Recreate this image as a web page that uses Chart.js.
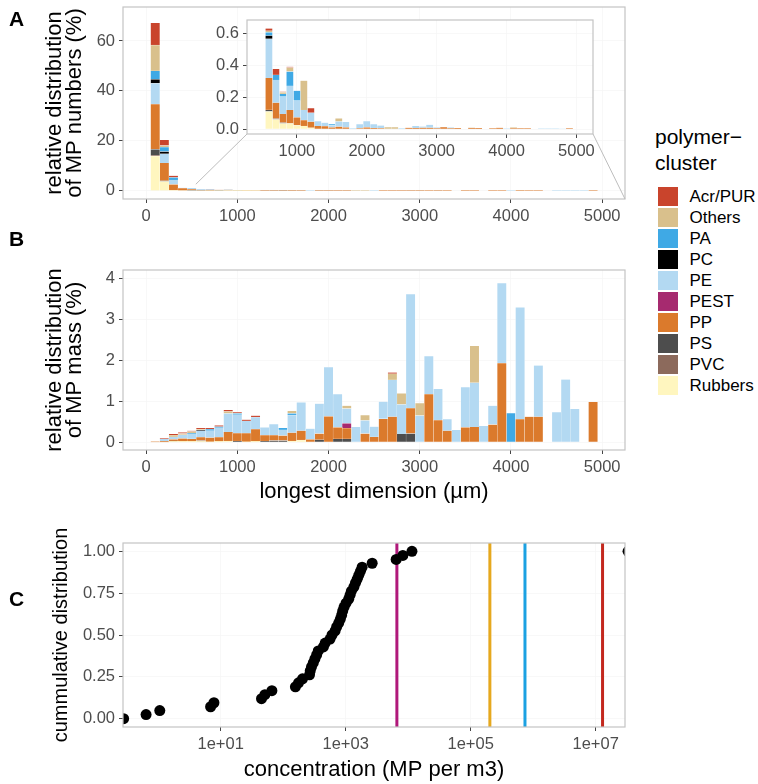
<!DOCTYPE html>
<html>
<head>
<meta charset="utf-8">
<script src="https://cdn.jsdelivr.net/npm/chart.js@4.4.0/dist/chart.umd.min.js"></script>
<style>
  body { margin: 0; background: #fff; font-family: "Liberation Sans", Arial, sans-serif; }
  #wrap { position: relative; width: 758px; height: 784px; overflow: hidden; }
  canvas { position: absolute; }
  .tag { position: absolute; font-weight: bold; font-size: 21px; color: #000; }
  #legend { position: absolute; left: 655px; top: 124px; color: #000; }
  .ltitle { font-size: 21px; line-height: 26px; }
  #litems { margin-top: 10px; }
  .litem { height: 21px; display: flex; align-items: center; font-size: 17px; }
  .lbox { width: 19.5px; height: 19.5px; margin-left: 3px; margin-right: 12px; }
</style>
</head>
<body>
<div id="wrap">
  <canvas id="numbers" width="640" height="235" style="left:0;top:0"></canvas>
  <canvas id="inset" width="410" height="152" style="left:195px;top:14px"></canvas>
  <canvas id="mass" width="640" height="275" style="left:0;top:235px"></canvas>
  <canvas id="conc" width="640" height="274" style="left:0;top:510px"></canvas>
  <div class="tag" style="left:9px;top:7px">A</div>
  <div class="tag" style="left:9px;top:227px">B</div>
  <div class="tag" style="left:9px;top:587px">C</div>
  <div id="legend">
    <div class="ltitle">polymer−<br>cluster</div>
    <div id="litems"></div>
  </div>
</div>
<script>
// size classes (µm), bin centres
const bins = [
  100, 200, 300, 400, 500, 600, 700, 800, 900, 1000,
  1100, 1200, 1300, 1400, 1500, 1600, 1700, 1800, 1900, 2000,
  2100, 2200, 2300, 2400, 2500, 2600, 2700, 2800, 2900, 3000,
  3100, 3200, 3300, 3400, 3500, 3600, 3700, 3800, 3900, 4000,
  4100, 4200, 4300, 4400, 4500, 4600, 4700, 4800, 4900, 5000
];

// legend order (top of stack first)
const polymers = ["Acr/PUR", "Others", "PA", "PC", "PE", "PEST", "PP", "PS", "PVC", "Rubbers"];
const colors = ["#C9442C", "#D9C08C", "#3FA9E5", "#000000", "#B3D9F2", "#A62A6F", "#DB7A2C", "#4D4D4D", "#8C6A5C", "#FFF6BF"];

// A: relative distribution of MP numbers (%)
const numAcr = [
  8.9, 2.3, 0.7, 0, 0, 0.015, 0.037, 0.004, 0.005, 0,
  0, 0.028, 0, 0, 0, 0, 0, 0, 0, 0,
  0, 0, 0, 0, 0, 0, 0, 0, 0, 0,
  0, 0, 0, 0, 0, 0, 0, 0, 0, 0,
  0, 0, 0, 0, 0, 0, 0, 0, 0, 0
];
const numOthers = [
  10.3, 0.6, 0, 0, 0, 0.01, 0, 0.01, 0.025, 0,
  0.184, 0, 0, 0, 0, 0.02, 0, 0, 0, 0,
  0, 0, 0.012, 0.012, 0, 0, 0, 0, 0, 0,
  0, 0, 0, 0, 0.002, 0, 0, 0, 0, 0,
  0.006, 0, 0, 0, 0, 0, 0, 0, 0, 0
];
const numPA = [
  3.4, 1.8, 1.0, 0, 0, 0.02, 0.032, 0.017, 0.09, 0.062,
  0, 0, 0, 0, 0.008, 0, 0, 0, 0, 0,
  0, 0, 0, 0, 0, 0, 0, 0, 0, 0,
  0, 0, 0, 0, 0, 0, 0, 0, 0, 0,
  0, 0, 0, 0, 0, 0, 0, 0, 0, 0
];
const numPC = [
  1.6, 0.9, 0, 0, 0, 0.02, 0, 0, 0, 0,
  0, 0, 0, 0, 0, 0, 0, 0, 0, 0,
  0, 0, 0, 0, 0, 0, 0, 0, 0, 0,
  0, 0, 0, 0, 0, 0, 0, 0, 0, 0,
  0, 0, 0, 0, 0, 0, 0, 0, 0, 0
];
const numPE = [
  8.3, 3.7, 1.8, 0.2, 0.5, 0.245, 0.142, 0.109, 0.151, 0.105,
  0.063, 0.056, 0.031, 0.022, 0.012, 0.032, 0.035, 0.005, 0.025, 0.04,
  0.024, 0.017, 0, 0, 0.004, 0, 0.013, 0.008, 0.019, 0.006,
  0, 0.006, 0, 0, 0, 0, 0, 0, 0, 0.003,
  0, 0, 0, 0, 0.003, 0.003, 0.003, 0.002, 0, 0
];
const numPEST = [
  0, 0, 0, 0, 0, 0, 0, 0, 0, 0,
  0, 0, 0, 0, 0, 0, 0, 0, 0, 0,
  0, 0, 0, 0, 0, 0, 0, 0, 0, 0,
  0, 0, 0, 0, 0, 0, 0, 0, 0, 0,
  0, 0, 0, 0, 0, 0, 0, 0, 0, 0
];
const numPP = [
  18.1, 7.1, 2.3, 0.9, 0.4, 0.2, 0.1, 0.054, 0.084, 0.05,
  0.037, 0.038, 0.019, 0.018, 0.01, 0.015, 0.01, 0, 0.005, 0.01,
  0.006, 0.005, 0, 0, 0, 0.008, 0.006, 0.008, 0.008, 0.004,
  0.012, 0.004, 0.006, 0, 0.006, 0.006, 0, 0.005, 0.008, 0,
  0.004, 0.005, 0.005, 0, 0, 0, 0, 0, 0.004, 0
];
const numPS = [
  2.4, 0.3, 0, 0, 0.1, 0.01, 0.005, 0.005, 0, 0,
  0, 0, 0, 0, 0, 0, 0, 0, 0, 0,
  0, 0, 0, 0, 0, 0, 0, 0, 0, 0,
  0, 0, 0, 0, 0, 0, 0, 0, 0, 0,
  0, 0, 0, 0, 0, 0, 0, 0, 0, 0
];
const numPVC = [
  0.3, 0, 0, 0, 0, 0, 0, 0, 0, 0,
  0, 0, 0, 0, 0, 0, 0, 0, 0, 0,
  0, 0, 0, 0, 0, 0, 0, 0, 0, 0,
  0, 0, 0, 0, 0, 0, 0, 0, 0, 0,
  0, 0, 0, 0, 0, 0, 0, 0, 0, 0
];
const numRubbers = [
  13.9, 3.7, 0.2, 0.1, 0.1, 0.11, 0.06, 0.035, 0.035, 0.023,
  0.019, 0.008, 0, 0, 0, 0, 0, 0, 0, 0,
  0, 0, 0, 0, 0, 0, 0, 0, 0, 0,
  0, 0, 0, 0, 0, 0, 0, 0, 0, 0,
  0, 0, 0, 0, 0, 0, 0, 0, 0, 0
];

// B: relative distribution of MP mass (%)
const massAcr = [
  0, 0.02, 0.03, 0.03, 0.02, 0.03, 0.03, 0.03, 0.04, 0.02,
  0.03, 0.04, 0, 0, 0, 0, 0, 0, 0, 0,
  0, 0, 0, 0, 0, 0, 0.03, 0, 0, 0,
  0, 0, 0, 0, 0, 0, 0, 0, 0, 0,
  0, 0, 0, 0, 0, 0, 0, 0, 0, 0
];
const massOthers = [
  0, 0, 0.04, 0.03, 0.04, 0.02, 0, 0, 0.05, 0.01,
  0, 0, 0, 0, 0, 0.06, 0, 0, 0, 0,
  0, 0.07, 0, 0.13, 0, 0, 0.15, 0.27, 0, 0.3,
  0, 0, 0, 0, 0, 0.9, 0, 0, 0, 0,
  0, 0, 0, 0, 0, 0, 0, 0, 0, 0
];
const massPA = [
  0, 0, 0, 0, 0.02, 0, 0.04, 0.03, 0, 0.03,
  0, 0, 0, 0, 0.05, 0.04, 0, 0, 0, 0,
  0, 0, 0, 0, 0, 0, 0, 0, 0, 0,
  0, 0, 0, 0, 0, 0, 0, 0, 0, 0.71,
  0, 0, 0, 0, 0, 0, 0, 0, 0, 0
];
const massPC = [
  0, 0, 0, 0, 0, 0.02, 0, 0, 0, 0,
  0, 0, 0, 0, 0, 0, 0, 0, 0, 0,
  0, 0, 0, 0, 0, 0, 0, 0, 0, 0,
  0, 0, 0, 0, 0, 0, 0, 0, 0, 0,
  0, 0, 0, 0, 0, 0, 0, 0, 0, 0
];
const massPE = [
  0, 0.06, 0.06, 0.09, 0.12, 0.16, 0.17, 0.23, 0.45, 0.45,
  0.3, 0.29, 0.19, 0.27, 0.14, 0.43, 0.69, 0.26, 0.73, 1.2,
  0.81, 0.36, 0.37, 0.32, 0.25, 0.42, 0.9, 0.72, 2.78, 0.65,
  0.93, 0.76, 0.28, 0.3, 0.98, 1.08, 0.4, 0.46, 1.95, 0,
  2.73, 0, 1.25, 0, 0.73, 1.53, 0.81, 0, 0, 0
];
const massPEST = [
  0, 0, 0, 0, 0, 0, 0, 0, 0, 0,
  0, 0, 0, 0, 0, 0, 0, 0, 0, 0,
  0, 0.12, 0, 0, 0, 0, 0, 0, 0, 0,
  0, 0, 0, 0, 0, 0, 0, 0, 0, 0,
  0, 0, 0, 0, 0, 0, 0, 0, 0, 0
];
const massPP = [
  0.016, 0.02, 0.04, 0.07, 0.06, 0.08, 0.1, 0.1, 0.22, 0.19,
  0.21, 0.3, 0.14, 0.13, 0.12, 0.2, 0.23, 0.07, 0.15, 0.63,
  0.28, 0.26, 0, 0.21, 0.13, 0.57, 0.62, 0, 0.62, 0,
  1.17, 0.54, 0.28, 0, 0.36, 0.37, 0, 0.43, 1.93, 0,
  0.56, 0.62, 0.62, 0, 0, 0, 0, 0, 0.98, 0
];
const massPS = [
  0, 0, 0.01, 0, 0, 0.02, 0, 0, 0, 0.03,
  0, 0, 0.03, 0.04, 0.04, 0, 0, 0, 0.06, 0,
  0.08, 0.08, 0, 0, 0, 0, 0, 0.2, 0.21, 0,
  0, 0, 0, 0, 0, 0, 0, 0, 0, 0,
  0, 0, 0, 0, 0, 0, 0, 0, 0, 0
];
const massPVC = [
  0, 0, 0, 0, 0, 0, 0, 0, 0, 0,
  0, 0, 0, 0, 0, 0, 0, 0, 0, 0,
  0, 0, 0, 0, 0, 0, 0, 0, 0, 0,
  0, 0, 0, 0, 0, 0, 0, 0, 0, 0,
  0, 0, 0, 0, 0, 0, 0, 0, 0, 0
];
const massRubbers = [
  0, 0, 0.02, 0.02, 0.02, 0.02, 0.01, 0.02, 0.03, 0,
  0.01, 0.02, 0, 0, 0, 0.03, 0.05, 0, 0, 0,
  0, 0, 0, 0, 0, 0, 0, 0, 0, 0,
  0, 0, 0, 0, 0, 0, 0, 0, 0, 0,
  0, 0, 0, 0, 0, 0, 0, 0, 0, 0
];

// C: concentrations (MP per m3) and cumulative share
const concValues = [
  0.28, 0.64, 1.06, 6.9, 7.8, 45, 51, 66, 157, 176, 204,
  264, 271, 284, 303, 322, 343, 364, 440, 470, 562, 605,
  677, 717, 773, 822, 863, 896, 942, 1014, 1117, 1175, 1233,
  1350, 1430, 1524, 1618, 1722, 1832, 2655, 6430, 8220, 11500, 3.3e7
];
const cumShare = [
  0, 0.024, 0.048, 0.071, 0.095, 0.119, 0.143, 0.167, 0.19, 0.214, 0.238,
  0.262, 0.286, 0.31, 0.333, 0.357, 0.381, 0.405, 0.429, 0.452, 0.476, 0.5,
  0.524, 0.548, 0.571, 0.595, 0.619, 0.643, 0.667, 0.69, 0.714, 0.738, 0.762,
  0.786, 0.81, 0.833, 0.857, 0.881, 0.905, 0.929, 0.952, 0.976, 1.0, 1.0
];
const refLines = [6600, 203000, 740000, 12900000];
const refColors = ["#B0187A", "#E6A81E", "#1BA1E2", "#C3281E"];

// tick labels
const sizeTicks = [0, 1000, 2000, 3000, 4000, 5000];
const insetXTicks = [1000, 2000, 3000, 4000, 5000];
const numTicks = [0, 20, 40, 60];
const insetYTicks = [0, 0.2, 0.4, 0.6];
const massTicks = [0, 1, 2, 3, 4];
const concTicks = [10, 1000, 100000, 10000000];
const cumTicks = [0, 0.25, 0.5, 0.75, 1];

// zoomed region of A shown in the inset (x0, x1, y0, y1)
const zoomBox = [545, 5250, -3.3, 2.6];

Chart.defaults.font.family = '"Liberation Sans", Arial, sans-serif';
Chart.defaults.font.size = 16.5;
Chart.defaults.color = "#4D4D4D";
Chart.defaults.animation = false;
Chart.defaults.events = [];
Chart.defaults.plugins.legend.display = false;
Chart.defaults.plugins.tooltip.enabled = false;

var gridColor = "#F5F5F5";

var panelBorder = {
  id: "panelBorder",
  afterDatasetsDraw(chart) {
    var a = chart.chartArea;
    var ctx = chart.ctx;
    ctx.save();
    ctx.strokeStyle = "#C4C4C4";
    ctx.lineWidth = 1.2;
    ctx.strokeRect(a.left, a.top, a.right - a.left, a.bottom - a.top);
    ctx.restore();
  }
};

var whiteArea = {
  id: "whiteArea",
  beforeDraw(chart) {
    var a = chart.chartArea;
    chart.ctx.save();
    chart.ctx.fillStyle = "#fff";
    chart.ctx.fillRect(a.left, a.top, a.right - a.left, a.bottom - a.top);
    chart.ctx.restore();
  }
};

function axis(ticks, fmt, min, max, extra) {
  return Object.assign({
    min: min,
    max: max,
    afterBuildTicks: (s) => { s.ticks = ticks.map((v) => ({ value: v })); },
    ticks: { callback: fmt, padding: 4, autoSkip: false, maxRotation: 0, minRotation: 0 },
    grid: { color: gridColor, lineWidth: 0.7, tickColor: "#444", tickLength: 4, tickWidth: 1, offset: false },
    border: { display: false },
  }, extra);
}

function fixWidth(w) {
  return (s) => { s.width = w; s.paddingTop = 0; s.paddingBottom = 0; };
}
function fixHeight(h) {
  return (s) => { s.height = h; s.paddingLeft = 0; s.paddingRight = 0; };
}

function yTitle(text, pad, size) {
  return { display: true, text: text, color: "#000", font: { size: size || 22, lineHeight: 0.95 }, padding: { top: pad, bottom: 0 } };
}
function xTitle(text, pad) {
  return { display: true, text: text, color: "#000", font: { size: 22, lineHeight: 0.95 }, padding: { top: 0, bottom: pad } };
}

function stackSets(series, keep) {
  // ggplot puts the first level on top, Chart.js stacks the first dataset at the bottom
  var sets = [];
  for (var k = polymers.length - 1; k >= 0; k--) {
    sets.push({
      label: polymers[k],
      data: bins.map((b, i) => ({ x: b, y: series[k][i] === 0 ? null : series[k][i] }))
        .filter((d) => keep(d.x)),
      backgroundColor: colors[k],
      borderColor: "rgba(255,255,255,0.7)",
      borderWidth: 0.4,
      borderSkipped: "start",
      barPercentage: 1,
      categoryPercentage: 1,
    });
  }
  return sets;
}

var numSeries = [numAcr, numOthers, numPA, numPC, numPE, numPEST, numPP, numPS, numPVC, numRubbers];
var massSeries = [massAcr, massOthers, massPA, massPC, massPE, massPEST, massPP, massPS, massPVC, massRubbers];

// inset first, so its area is known when the connector lines are drawn
var insetCanvas = document.getElementById("inset");
var insetChart = new Chart(insetCanvas, {
  type: "bar",
  data: { datasets: stackSets(numSeries, (x) => x >= 600) },
  options: {
    responsive: false,
    layout: { padding: { top: 6, right: 12, left: 0, bottom: 0 } },
    scales: {
      x: axis(insetXTicks, (v) => v, 286, 5237, { type: "linear", stacked: true, offset: false, afterFit: fixHeight(32) }),
      y: axis(insetYTicks, (v) => v.toFixed(1), -0.031, 0.683, { stacked: true, afterFit: fixWidth(52) }),
    },
  },
  plugins: [whiteArea, panelBorder],
});

var numCanvas = document.getElementById("numbers");
var connector = {
  id: "connector",
  afterDraw(chart) {
    var a = insetChart.chartArea;
    var ox = insetCanvas.offsetLeft - chart.canvas.offsetLeft;
    var oy = insetCanvas.offsetTop - chart.canvas.offsetTop;
    var x = chart.scales.x, y = chart.scales.y;
    var ctx = chart.ctx;
    ctx.save();
    ctx.strokeStyle = "#BDBDBD";
    ctx.lineWidth = 1;
    ctx.beginPath();
    ctx.moveTo(x.getPixelForValue(zoomBox[0]), y.getPixelForValue(zoomBox[3]));
    ctx.lineTo(ox + a.left, oy + a.bottom);
    ctx.moveTo(x.getPixelForValue(zoomBox[1]), y.getPixelForValue(zoomBox[2]));
    ctx.lineTo(ox + a.right, oy + a.bottom);
    ctx.stroke();
    ctx.restore();
  }
};

new Chart(numCanvas, {
  type: "bar",
  data: { datasets: stackSets(numSeries, () => true) },
  options: {
    responsive: false,
    layout: { padding: { top: 7, right: 15, left: 0, bottom: 0 } },
    scales: {
      x: axis(sizeTicks, (v) => v, -253, 5250, { type: "linear", stacked: true, offset: false, afterFit: fixHeight(36) }),
      y: axis(numTicks, (v) => v, -3.3, 73.6, {
        stacked: true,
        afterFit: fixWidth(123),
        title: yTitle(["relative distribution", "of MP numbers (%)"], 44),
      }),
    },
  },
  plugins: [panelBorder, connector],
});

new Chart(document.getElementById("mass"), {
  type: "bar",
  data: { datasets: stackSets(massSeries, () => true) },
  options: {
    responsive: false,
    layout: { padding: { top: 35, right: 15, left: 0, bottom: 0 } },
    scales: {
      x: axis(sizeTicks, (v) => v, -253, 5250, {
        type: "linear", stacked: true, offset: false,
        afterFit: fixHeight(60),
        title: xTitle("longest dimension (µm)", 7.5),
      }),
      y: axis(massTicks, (v) => v, -0.19, 4.2, {
        stacked: true,
        afterFit: fixWidth(123),
        title: yTitle(["relative distribution", "of MP mass (%)"], 44),
      }),
    },
  },
  plugins: [panelBorder],
});

function sciLabel(v) {
  var e = Math.round(Math.log10(v));
  return "1e" + (e < 0 ? "-" : "+") + String(Math.abs(e)).padStart(2, "0");
}

var concSets = [{
  data: concValues.map((c, i) => ({ x: c, y: cumShare[i] })),
  backgroundColor: "#000",
  borderColor: "#000",
  pointRadius: 5.5,
  pointBorderWidth: 0,
  clip: { left: 0, top: 0, right: 0, bottom: 0 },
  order: 0,
}];
refLines.forEach((v, i) => {
  concSets.push({
    data: [{ x: v, y: -0.05 }, { x: v, y: 1.05 }],
    showLine: true,
    borderColor: refColors[i],
    borderWidth: 3,
    pointRadius: 0,
    order: 1,
  });
});

new Chart(document.getElementById("conc"), {
  type: "scatter",
  data: { datasets: concSets },
  options: {
    responsive: false,
    layout: { padding: { top: 33, right: 15, left: 0, bottom: 0 } },
    scales: {
      x: axis(concTicks, sciLabel, 0.2735, 2.95e7, {
        type: "logarithmic",
        afterFit: fixHeight(57),
        title: xTitle("concentration (MP per m3)", 3.5),
      }),
      y: axis(cumTicks, (v) => v.toFixed(2), -0.05, 1.05, {
        afterFit: fixWidth(123),
        title: yTitle("cummulative distribution", 52, 20),
      }),
    },
  },
  plugins: [panelBorder],
});

// legend
var litems = document.getElementById("litems");
polymers.forEach((p, k) => {
  var row = document.createElement("div");
  row.className = "litem";
  var box = document.createElement("div");
  box.className = "lbox";
  box.style.background = colors[k];
  var lab = document.createElement("span");
  lab.textContent = p;
  row.appendChild(box);
  row.appendChild(lab);
  litems.appendChild(row);
});
</script>
</body>
</html>
